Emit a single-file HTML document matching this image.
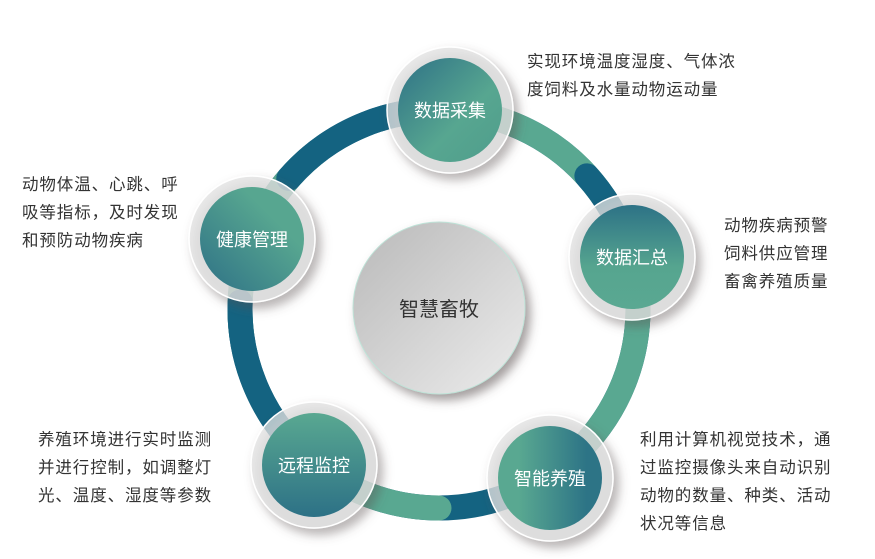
<!DOCTYPE html>
<html><head><meta charset="utf-8"><style>
body{margin:0;width:875px;height:559px;background:#fff;overflow:hidden;font-family:"Liberation Sans","Noto Sans CJK SC",sans-serif}
.t{position:absolute;font-size:16.5px;line-height:28px;color:#333;white-space:nowrap;letter-spacing:0.9px}
svg{position:absolute;left:0;top:0}
</style></head><body>
<svg width="875" height="559" viewBox="0 0 875 559">
<defs>
<filter id="sh" x="-30%" y="-30%" width="170%" height="170%"><feDropShadow dx="5" dy="6" stdDeviation="5" flood-color="#5a5050" flood-opacity="0.55"/></filter>
<linearGradient id="g1" x1="0" y1="0" x2="1" y2="1"><stop offset="0" stop-color="#2e7186"/><stop offset="0.6" stop-color="#57a690"/><stop offset="1" stop-color="#4f9d8c"/></linearGradient>
<linearGradient id="g2" x1="0" y1="0" x2="0" y2="1"><stop offset="0" stop-color="#2d7286"/><stop offset="0.6" stop-color="#56a58f"/><stop offset="1" stop-color="#5aa892"/></linearGradient>
<linearGradient id="g3" x1="0" y1="0" x2="1" y2="0"><stop offset="0.2" stop-color="#59a891"/><stop offset="0.85" stop-color="#2d7486"/></linearGradient>
<linearGradient id="g4" x1="0" y1="0" x2="0" y2="1"><stop offset="0" stop-color="#59a891"/><stop offset="1" stop-color="#2d7186"/></linearGradient>
<linearGradient id="g5" x1="0" y1="1" x2="1" y2="0"><stop offset="0" stop-color="#2e7186"/><stop offset="0.7" stop-color="#57a690"/></linearGradient>
<linearGradient id="gc" x1="0" y1="0" x2="1" y2="1"><stop offset="0" stop-color="#b9b9b9"/><stop offset="1" stop-color="#ececec"/></linearGradient>
</defs>
<g fill="none" stroke-width="25">
<circle cx="439" cy="309" r="199" stroke="#146381"/>
</g>
<g id="arcs"></g>
<circle cx="439" cy="308" r="86" fill="url(#gc)" stroke="#bfe3d8" stroke-width="1" filter="url(#sh)"/>
<text x="439" y="316" text-anchor="middle" font-size="20" fill="#333" font-family="Liberation Sans, Noto Sans CJK SC, sans-serif">智慧畜牧</text>
<g font-family="Liberation Sans, Noto Sans CJK SC, sans-serif" font-size="18" fill="#fff" text-anchor="middle">
<circle cx="450" cy="110" r="63" fill="rgba(225,225,225,0.75)" stroke="#fff" stroke-width="1.5" filter="url(#sh)"/><circle cx="450" cy="110" r="52" fill="url(#g1)"/><text x="450" y="117">数据采集</text>
<circle cx="632" cy="257" r="63" fill="rgba(225,225,225,0.75)" stroke="#fff" stroke-width="1.5" filter="url(#sh)"/><circle cx="632" cy="257" r="52" fill="url(#g2)"/><text x="632" y="264">数据汇总</text>
<circle cx="550" cy="478" r="63" fill="rgba(225,225,225,0.75)" stroke="#fff" stroke-width="1.5" filter="url(#sh)"/><circle cx="550" cy="478" r="52" fill="url(#g3)"/><text x="550" y="485">智能养殖</text>
<circle cx="314" cy="465" r="63" fill="rgba(225,225,225,0.75)" stroke="#fff" stroke-width="1.5" filter="url(#sh)"/><circle cx="314" cy="465" r="52" fill="url(#g4)"/><text x="314" y="472">远程监控</text>
<circle cx="252" cy="239" r="63" fill="rgba(225,225,225,0.75)" stroke="#fff" stroke-width="1.5" filter="url(#sh)"/><circle cx="252" cy="239" r="52" fill="url(#g5)"/><text x="252" y="246">健康管理</text>
</g>
</svg>
<div class="t" style="left:527px;top:48px">实现环境温度湿度、气体浓<br>度饲料及水量动物运动量</div>
<div class="t" style="left:724px;top:212px">动物疾病预警<br>饲料供应管理<br>畜禽养殖质量</div>
<div class="t" style="left:22px;top:171px">动物体温、心跳、呼<br>吸等指标，及时发现<br>和预防动物疾病</div>
<div class="t" style="left:38px;top:426px">养殖环境进行实时监测<br>并进行控制，如调整灯<br>光、温度、湿度等参数</div>
<div class="t" style="left:640px;top:426px">利用计算机视觉技术，通<br>过监控摄像头来自动识别<br>动物的数量、种类、活动<br>状况等信息</div>
<script>
(function(){
var cx=439,cy=309,r=199,ns="http://www.w3.org/2000/svg";
var g=document.getElementById('arcs');
function arc(a,b,col,cap){var p=document.createElementNS(ns,'path');
var r1=a*Math.PI/180,r2=b*Math.PI/180;
var d="M"+(cx+r*Math.cos(r1))+" "+(cy+r*Math.sin(r1))+" A"+r+" "+r+" 0 "+((b-a)>180?1:0)+" 1 "+(cx+r*Math.cos(r2))+" "+(cy+r*Math.sin(r2));
p.setAttribute('d',d);p.setAttribute('fill','none');p.setAttribute('stroke',col);p.setAttribute('stroke-width','25');p.setAttribute('stroke-linecap',cap);g.appendChild(p);}
var G="#59a891",B="#146381";
arc(-87,-30,G,'butt');arc(-15,57,G,'butt');arc(172,232,G,'butt');
arc(-42,-15,B,'round');arc(129,182,B,'round');arc(221,273,B,'round');
arc(90,129,G,'round');
})();
</script>
</body></html>
